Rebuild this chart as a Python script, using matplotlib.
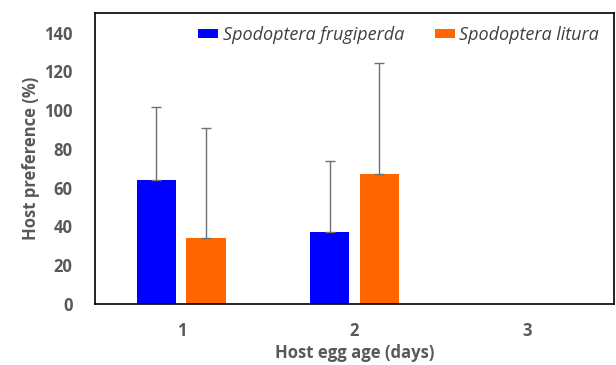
import matplotlib
matplotlib.use("Agg")
import matplotlib.pyplot as plt
import numpy as np

categories = ["1", "2", "3"]
frugiperda = [64, 37, 0]
frugiperda_sd = [37.5, 37, 0]
litura = [34, 67, 0]
litura_sd = [57, 57.5, 0]
yticks = [0, 20, 40, 60, 80, 100, 120, 140]

plt.rcParams['font.family'] = ['Open Sans', 'DejaVu Sans']

fig = plt.figure(figsize=(6.16, 3.65), dpi=100)
ax = fig.add_axes([0.154, 0.167, 0.843, 0.797])

x = np.arange(1, len(categories) + 1)
w = 0.23
off = 0.144
ecol = '#707070'
ax.bar(x - off, frugiperda, w, color='#0000ff', label='Spodoptera frugiperda', zorder=2)
ax.bar(x + off, litura, w, color='#ff6600', label='Spodoptera litura', zorder=2)
ax.errorbar(x[:2] - off, frugiperda[:2], yerr=[np.zeros(2), frugiperda_sd[:2]],
            fmt='none', ecolor=ecol, elinewidth=1.0, capsize=3.5, capthick=1.0, zorder=3)
ax.errorbar(x[:2] + off, litura[:2], yerr=[np.zeros(2), litura_sd[:2]],
            fmt='none', ecolor=ecol, elinewidth=1.0, capsize=3.5, capthick=1.0, zorder=3)

ax.set_xlim(0.5, 3.5)
ax.set_ylim(0, 150)
ax.set_yticks(yticks)
ax.set_xticks(x)
ax.set_xticklabels(categories)
ax.tick_params(axis='y', length=0, labelsize=12, colors='#595959', pad=16)
ax.tick_params(axis='x', length=0, labelsize=12, colors='#595959', pad=13)
for lab in ax.get_xticklabels() + ax.get_yticklabels():
    lab.set_fontweight('bold')
for s in ax.spines.values():
    s.set_color('black')
    s.set_linewidth(1.2)

ax.set_xlabel('Host egg age (days)', fontsize=12, fontweight='bold', color='#595959', labelpad=3)
ax.set_ylabel('Host preference (%)', fontsize=12, fontweight='bold', color='#595959', labelpad=3)

leg = ax.legend(loc='upper right', ncol=2, frameon=False, prop={'style': 'italic', 'size': 13},
                handlelength=1.1, handleheight=0.4, handletextpad=0.25, columnspacing=1.7,
                bbox_to_anchor=(0.995, 1.0), borderaxespad=0.3)
for t in leg.get_texts():
    t.set_color('#404040')

fig.savefig('out.png', dpi=100)
